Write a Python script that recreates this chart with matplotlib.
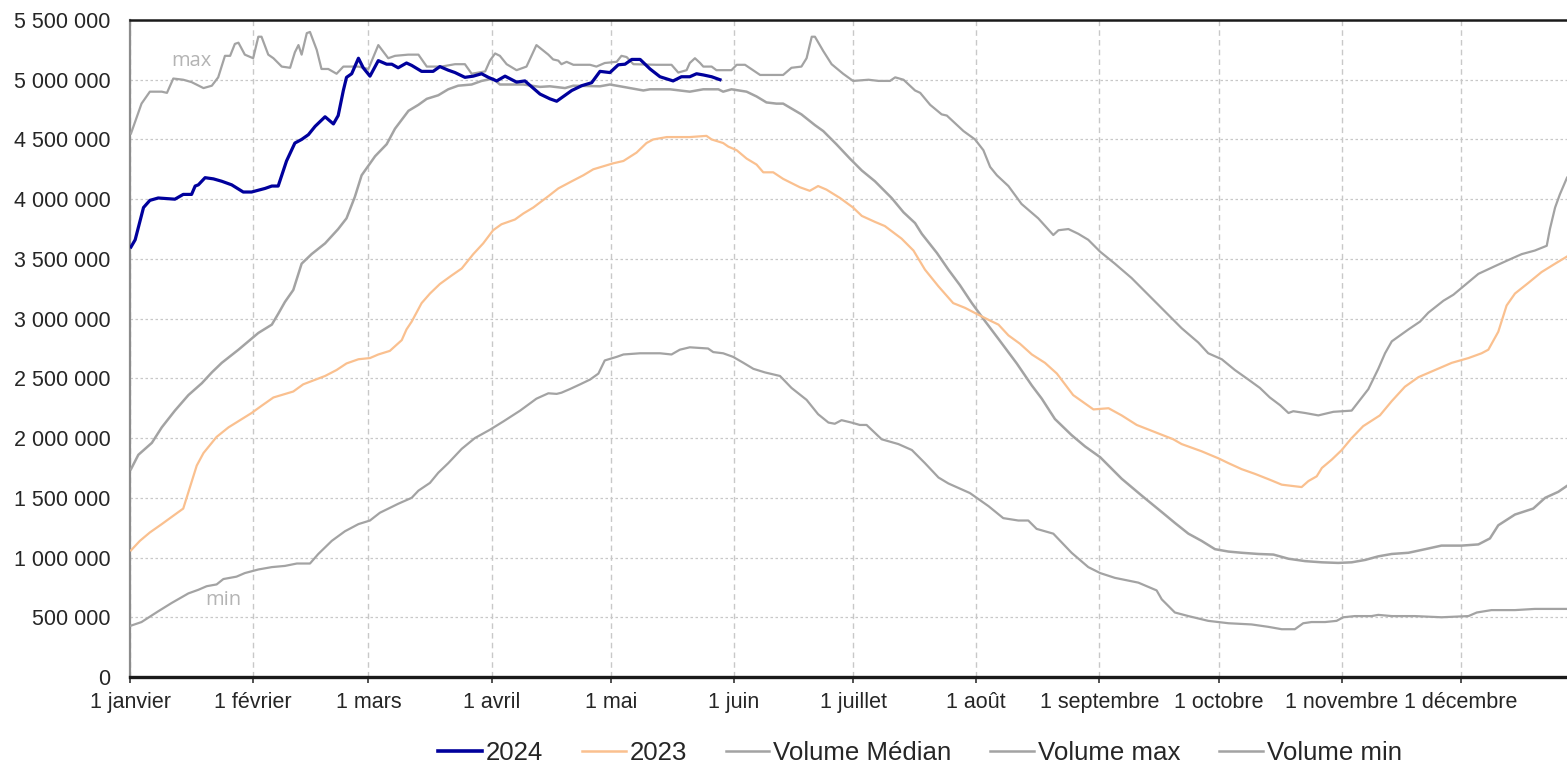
import matplotlib
matplotlib.use("Agg")
import matplotlib.pyplot as plt
from matplotlib.lines import Line2D

# ---------------- data (x = day of year, 0 = 1 janvier; values in millions) ----------------
month_ticks = [0, 31, 60, 91, 121, 152, 182, 213, 244, 274, 305, 335]
month_labels = ["1 janvier", "1 février", "1 mars", "1 avril", "1 mai", "1 juin",
                "1 juillet", "1 août", "1 septembre", "1 octobre", "1 novembre", "1 décembre"]
y_ticks = [0, 0.5, 1.0, 1.5, 2.0, 2.5, 3.0, 3.5, 4.0, 4.5, 5.0, 5.5]
y_labels = ["0", "500 000", "1 000 000", "1 500 000", "2 000 000", "2 500 000", "3 000 000",
            "3 500 000", "4 000 000", "4 500 000", "5 000 000", "5 500 000"]

days_2024 = [0.25, 1.3, 3.4, 5.0, 7.1, 11.3, 13.4, 15.5, 16.4, 17.2, 18.9, 21, 23.1, 25.6, 28.5,
             30.6, 34, 35.7, 37.3, 39.4, 41.5, 43.2, 44.9, 46.6, 49.1, 51.2, 52.4, 53.7, 54.5,
             55.8, 57.5, 58.7, 60.4, 62.5, 64.6, 65.9, 67.5, 69.6, 70.9, 73.4, 76.3, 78.0, 80.1,
             81.8, 84.3, 86.4, 88.5, 90.2, 92.3, 94.4, 97.3, 99.4, 103.2, 105.7, 107.4, 111.2,
             113.7, 116.2, 118.3, 120.8, 122.9, 124.6, 126.3, 128.4, 130.9, 133.4, 136.7, 138.8,
             140.9, 142.6, 144.3, 146.4, 148.5]
vol_2024 = [3.60, 3.66, 3.93, 3.99, 4.01, 4.00, 4.04, 4.04, 4.11, 4.12, 4.18, 4.17, 4.15, 4.12, 4.06,
            4.06, 4.09, 4.11, 4.11, 4.32, 4.47, 4.50, 4.54, 4.61, 4.69, 4.63, 4.70, 4.91, 5.02,
            5.05, 5.18, 5.10, 5.03, 5.16, 5.13, 5.13, 5.10, 5.14, 5.12, 5.07, 5.07, 5.11, 5.08,
            5.06, 5.02, 5.03, 5.05, 5.02, 4.99, 5.03, 4.98, 4.99, 4.88, 4.84, 4.82, 4.91,
            4.95, 4.975, 5.07, 5.06, 5.125, 5.13, 5.17, 5.17, 5.09, 5.025, 4.99, 5.025,
            5.025, 5.05, 5.04, 5.025, 5.00]

days_2023 = [0.25, 2.5, 5, 8, 10.9, 13.4, 15.1, 16.8, 18.5, 21.8, 24.8, 27.7, 30.6, 33.1, 36.1,
             41.1, 43.6, 49.1, 52, 54.5, 57.5, 60.4, 62.5, 65.4, 68.4, 69.6, 70.9, 73.4, 75.5,
             78, 80.9, 83.5, 86.4, 88.9, 91.4, 93.5, 96.9, 99, 101.5, 105.3, 107.8, 111.2, 114.1,
             116.6, 119.1, 121.6, 124.2, 127.5, 130, 131.7, 135.1, 140.9, 145.1, 146.4, 149.3,
             150.6, 152.7, 155.2, 157.7, 159.4, 161.9, 164.4, 168.6, 171.1, 173.2, 175.3, 178.7,
             182, 184.2, 187.5, 190, 194.2, 197.2, 200.1, 203.5, 207.2, 210.2, 213.1, 216.1,
             218.6, 221.1, 224, 227, 230.3, 233.3, 237.4, 242.5, 246.3, 249.6, 253.4, 258,
             262.6, 264.7, 269.7, 274, 276.5, 279.8, 283.2, 287, 289.9, 292.4, 294.9, 296.6,
             298.7, 300, 302.5, 305, 307.5, 310.4, 314.6, 317.6, 320.9, 324.3, 328.5, 332.7,
             336.9, 340.2, 341.9, 344.4, 346.5, 348.6, 352, 355.3, 358.7, 361.7]
vol_2023 = [1.06, 1.14, 1.21, 1.28, 1.35, 1.41, 1.59, 1.77, 1.875, 2.01, 2.09, 2.15, 2.21, 2.27, 2.34,
            2.39, 2.45, 2.52, 2.57, 2.625, 2.66, 2.67, 2.70, 2.73, 2.82, 2.91, 2.975, 3.13, 3.21,
            3.29, 3.36, 3.42, 3.54, 3.63, 3.74, 3.79, 3.83, 3.88, 3.93, 4.025, 4.09, 4.15, 4.20,
            4.25, 4.275, 4.30, 4.32, 4.39, 4.47, 4.50, 4.52, 4.52, 4.53, 4.50, 4.47,
            4.44, 4.41, 4.34, 4.29, 4.225, 4.225, 4.17, 4.10, 4.07, 4.11, 4.08, 4.01,
            3.93, 3.86, 3.81, 3.775, 3.67, 3.57, 3.41, 3.27, 3.13, 3.09, 3.04, 2.99,
            2.95, 2.86, 2.79, 2.70, 2.63, 2.54, 2.36, 2.24, 2.25, 2.19, 2.11, 2.05,
            1.99, 1.95, 1.89, 1.83, 1.79, 1.74, 1.70, 1.65, 1.61, 1.60, 1.59, 1.64,
            1.68, 1.75, 1.82, 1.90, 2.00, 2.10, 2.19, 2.31, 2.43, 2.51, 2.57, 2.63,
            2.67, 2.71, 2.74, 2.89, 3.11, 3.21, 3.30, 3.39, 3.46, 3.52]

days_med = [0.25, 2.1, 5.5, 8, 11.3, 14.7, 18.1, 20.6, 23.1, 27.3, 29.8, 32.3, 35.7, 37.3, 39, 41.1,
            43.2, 45.7, 49.1, 52.4, 54.5, 56.6, 58.3, 61.7, 64.6, 66.7, 70.1, 72.6, 74.7, 77.6,
            80.1, 82.6, 86, 88.5, 91.4, 93.1, 99, 103.2, 105.7, 109.5, 111.6, 118.3, 120.8, 124.2,
            129.2, 130.9, 135.9, 140.9, 144.3, 148.1, 149.3, 151.4, 155.2, 157.7, 160.2, 162.7,
            164.4, 169, 172.4, 174.5, 177.8, 181.2, 184.2, 187.5, 191.7, 194.7, 197.6, 199.3,
            203.1, 206, 208.9, 211.9, 215.2, 218.6, 223.2, 227, 229.5, 232.8, 237, 240.4, 244.2,
            249.6, 254.6, 260.1, 263, 266.4, 269.7, 273.1, 276.5, 279.8, 284, 287.8, 291.6,
            295.8, 300, 304.1, 307.5, 310.9, 314.2, 317.6, 321.8, 326, 330.1, 335.2, 339.4,
            342.3, 344.4, 348.6, 353.2, 356.2, 359.5, 361.7]
vol_med = [1.74, 1.86, 1.96, 2.09, 2.23, 2.36, 2.46, 2.55, 2.63, 2.74, 2.81, 2.88, 2.95, 3.04, 3.14, 3.24,
           3.46, 3.54, 3.63, 3.75, 3.84, 4.02, 4.20, 4.36, 4.46, 4.59, 4.74, 4.79, 4.84, 4.87,
           4.92, 4.95, 4.96, 4.99, 5.01, 4.96, 4.96, 4.94, 4.945, 4.93, 4.95, 4.945, 4.96, 4.94,
           4.91, 4.92, 4.92, 4.90, 4.92, 4.92, 4.90, 4.92, 4.90, 4.86, 4.81, 4.80,
           4.80, 4.71, 4.62, 4.57, 4.46, 4.34, 4.24, 4.15, 4.01, 3.89, 3.80, 3.71,
           3.55, 3.41, 3.28, 3.13, 2.98, 2.83, 2.625, 2.44, 2.33, 2.16, 2.025, 1.93, 1.84,
           1.66, 1.52, 1.37, 1.29, 1.20, 1.14, 1.07, 1.05, 1.04, 1.03, 1.025, 0.99,
           0.97, 0.96, 0.955, 0.96, 0.98, 1.01, 1.03, 1.04, 1.07, 1.10, 1.10, 1.11,
           1.16, 1.27, 1.36, 1.41, 1.50, 1.55, 1.60]

days_max = [0.25, 2.9, 5.0, 8, 9.3, 10.9, 13.4, 15.5, 18.5, 20.6, 22.2, 23.9, 25.2, 26.4, 27.3, 28.9,
            31, 32.3, 33.1, 34.8, 36.1, 38.2, 40.3, 41.5, 42.4, 43.2, 44.5, 45.3, 47, 48.2, 49.9,
            52, 53.7, 57.5, 60, 62.5, 65, 66.7, 70, 72.6, 74.7, 78.4, 81.8, 84.3, 86, 89.4, 90.6,
            91.9, 93.1, 94.8, 97.3, 99.8, 102.3, 105.3, 106.5, 107.8, 108.6, 109.9, 111.6, 115.8,
            117.4, 119.5, 122.5, 123.7, 125, 126.7, 132.5, 136.3, 138, 140.1, 140.9, 142.2,
            143.5, 144.3, 146.4, 147.6, 151.4, 152.7, 154.8, 158.6, 164.4, 166.5, 169, 170.3,
            171.6, 172.4, 174.5, 176.6, 179.5, 182, 185.9, 188.4, 191.3, 192.6, 194.7, 197.6,
            198.9, 201.4, 204.3, 205.6, 209.8, 212.7, 214.8, 216.5, 218.2, 221.1, 224.4, 228.6,
            232.4, 233.7, 236.2, 238.7, 241.2, 244.2, 247.9, 252.1, 256.3, 260.5, 264.7, 268.9,
            271.4, 274.8, 278.1, 281.5, 284.4, 286.9, 289.5, 291.6, 292.8, 295.8, 299.1, 301.6,
            302.9, 307.5, 309.6, 311.7, 314.2, 315.9, 317.6, 321.8, 324.7, 326.8, 330.6, 333.1,
            336, 339.4, 343.6, 346.9, 350.3, 353.6, 356.6, 357.4, 358.7, 359.9, 361.7]
vol_max = [4.55, 4.80, 4.90, 4.90, 4.89, 5.01, 5.00, 4.98, 4.93, 4.95, 5.02, 5.20, 5.20, 5.30, 5.31, 5.21,
           5.18, 5.36, 5.36, 5.21, 5.18, 5.11, 5.10, 5.23, 5.29, 5.21, 5.39, 5.40, 5.25, 5.09, 5.09,
           5.05, 5.11, 5.11, 5.09, 5.29, 5.18, 5.20, 5.21, 5.21, 5.11, 5.11, 5.13, 5.13, 5.05, 5.07, 5.16,
           5.22, 5.20, 5.13, 5.08, 5.11, 5.29, 5.21, 5.17, 5.16, 5.13, 5.15, 5.125, 5.125,
           5.11, 5.14, 5.15, 5.20, 5.19, 5.13, 5.125, 5.125, 5.06, 5.08, 5.14, 5.18,
           5.14, 5.11, 5.11, 5.08, 5.08, 5.125, 5.125, 5.04, 5.04, 5.10, 5.11, 5.18,
           5.36, 5.36, 5.24, 5.13, 5.05, 4.99, 5.00, 4.99, 4.99, 5.02, 5.00, 4.91,
           4.89, 4.79, 4.71, 4.70, 4.57, 4.50, 4.41, 4.27, 4.20, 4.11, 3.96, 3.84,
           3.70, 3.74, 3.75, 3.71, 3.66, 3.56, 3.46, 3.34, 3.20, 3.06, 2.92, 2.80,
           2.71, 2.66, 2.57, 2.49, 2.42, 2.34, 2.275, 2.21, 2.225, 2.21, 2.19, 2.21,
           2.22, 2.23, 2.32, 2.41, 2.58, 2.71, 2.81, 2.91, 2.975, 3.05, 3.15, 3.20,
           3.28, 3.375, 3.44, 3.49, 3.54, 3.57, 3.61, 3.75, 3.93, 4.04, 4.18]

days_min = [0.25, 2.9, 7.1, 10.5, 14.7, 17.2, 19.3, 21.8, 23.5, 26.8, 28.9, 32.3, 35.7, 39, 42, 45.3,
            47.4, 50.8, 54.1, 57.5, 60.4, 62.9, 67.5, 70.9, 72.6, 75.5, 77.6, 80.1, 83.5, 86.8,
            90.6, 94, 98.2, 102.3, 105.3, 107.4, 108.6, 110.7, 113.3, 115.8, 117.9, 119.5, 122.5,
            124.2, 128.4, 133.4, 136.3, 138.4, 140.9, 145.5, 146.8, 149.3, 151.8, 154.4, 156.9,
            159.8, 163.6, 166.5, 170.3, 173.2, 175.8, 177.4, 179.1, 181.6, 183.7, 185.4, 189.2,
            193.4, 196.8, 200.1, 203.5, 206, 211.4, 216.1, 219.8, 223.6, 226.1, 228.2, 232.4,
            237, 241.2, 244.2, 247.9, 253.8, 258.4, 259.7, 263, 266.4, 271.4, 276.5, 282.3,
            286.5, 289.9, 293.2, 295.3, 297.4, 300.8, 303.7, 305.4, 308.3, 312.5, 314.2, 317.6,
            323.4, 330.1, 336.9, 339, 342.7, 348.6, 353.6, 361.7]
vol_min = [0.43, 0.46, 0.55, 0.62, 0.70, 0.73, 0.76, 0.775, 0.82, 0.84, 0.87, 0.90, 0.92, 0.93, 0.95, 0.95,
           1.03, 1.14, 1.22, 1.28, 1.31, 1.375, 1.45, 1.50, 1.56, 1.625, 1.71, 1.79, 1.91, 2.00,
           2.07, 2.14, 2.23, 2.33, 2.375, 2.37, 2.38, 2.41, 2.45, 2.49, 2.54, 2.65, 2.68,
           2.70, 2.71, 2.71, 2.70, 2.74, 2.76, 2.75, 2.72, 2.71, 2.68, 2.63, 2.58,
           2.55, 2.52, 2.42, 2.32, 2.20, 2.13, 2.12, 2.15, 2.13, 2.11, 2.11, 1.99,
           1.95, 1.90, 1.79, 1.67, 1.62, 1.54, 1.43, 1.33, 1.31, 1.31, 1.24, 1.20,
           1.04, 0.92, 0.87, 0.83, 0.79, 0.725, 0.65, 0.54, 0.51, 0.47, 0.45, 0.44,
           0.42, 0.40, 0.40, 0.45, 0.46, 0.46, 0.47, 0.50, 0.51, 0.51, 0.52, 0.51,
           0.51, 0.50, 0.51, 0.54, 0.56, 0.56, 0.57, 0.57]

series_names = ["2024", "2023", "Volume Médian", "Volume max", "Volume min"]

# ---------------- styling ----------------
plt.rcParams['font.family'] = ['Liberation Sans', 'DejaVu Sans']
C_2024 = "#00009C"
C_2023 = "#FAC08F"
C_GREY = "#A3A3A3"
TXT = "#262626"

fig = plt.figure(figsize=(15.67, 7.66), dpi=100)
ax = fig.add_axes([130 / 1567, 1 - 677 / 766, 1 - 130 / 1567, (677 - 20) / 766])

M = 1e6
ax.plot(days_min, [v * M for v in vol_min], color=C_GREY, lw=1.6, zorder=3)
ax.plot(days_max, [v * M for v in vol_max], color=C_GREY, lw=1.6, zorder=3)
ax.plot(days_med, [v * M for v in vol_med], color=C_GREY, lw=1.8, zorder=3)
ax.plot(days_2023, [v * M for v in vol_2023], color=C_2023, lw=1.6, zorder=4)
ax.plot(days_2024, [v * M for v in vol_2024], color=C_2024, lw=2.3, zorder=5)

ax.set_xlim(0, 361.7)
ax.set_ylim(0, 5.5 * M)

ax.set_yticks([t * M for t in y_ticks])
ax.set_yticklabels(y_labels)
ax.set_xticks(month_ticks)
ax.set_xticklabels(month_labels)

ax.tick_params(axis='y', length=0, pad=14, labelsize=15.5, labelcolor=TXT)
ax.tick_params(axis='x', length=4, width=1.2, color='#333333', direction='out', pad=7,
               labelsize=15.5, labelcolor=TXT)

ax.grid(axis='y', color='#C8C8C8', linestyle=(0, (2, 2)), linewidth=0.9, zorder=0)
ax.grid(axis='x', color='#C8C8C8', linestyle=(0, (4, 3)), linewidth=1.0, zorder=0)
ax.set_axisbelow(True)

ax.spines['right'].set_visible(False)
ax.spines['left'].set_color('#8C8C8C')
ax.spines['left'].set_linewidth(1.6)
ax.spines['bottom'].set_color('#1a1a1a')
ax.spines['bottom'].set_linewidth(2.4)
ax.spines['top'].set_color('#1a1a1a')
ax.spines['top'].set_linewidth(1.8)

# annotations
ax.text(10.5, 5.16 * M, "max", color='#B4B4B4', fontsize=14.5, family=['Open Sans', 'DejaVu Sans'],
        ha='left', va='center')
ax.text(18.9, 0.645 * M, "min", color='#B4B4B4', fontsize=14.5, family=['Open Sans', 'DejaVu Sans'],
        ha='left', va='center')

# legend
colors = [C_2024, C_2023, C_GREY, C_GREY, C_GREY]
widths = [2.6, 1.8, 1.8, 1.8, 1.8]
handles = [Line2D([0], [0], color=c, lw=w) for c, w in zip(colors, widths)]
fig.legend(handles, series_names, loc='center', bbox_to_anchor=(920 / 1567, 1 - 753 / 766),
           ncol=5, frameon=False, fontsize=18.6, handlelength=1.7, handletextpad=0.15,
           columnspacing=1.5, labelcolor=TXT, borderpad=0)

fig.savefig("out.png", dpi=100)
